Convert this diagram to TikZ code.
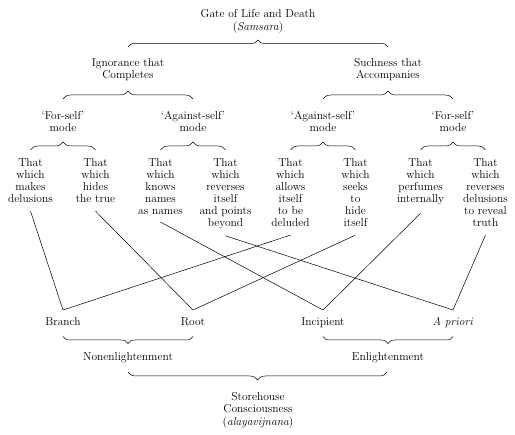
\documentclass[tikz,border=0pt]{standalone}
\usepackage{fontspec}
\usetikzlibrary{decorations.pathreplacing}
\begin{document}
\begin{tikzpicture}[x=1pt,y=-1pt,
  every node/.style={font=\fontsize{11.5}{12}\selectfont},
  lbl/.style={align=center,inner sep=0pt,anchor=north},
  leaf/.style={lbl,outer xsep=0pt,outer ysep=8pt},
  base/.style={lbl,outer xsep=0pt,outer ysep=7.5pt},
  brc/.style={decorate,decoration={brace,amplitude=#1},line width=0.5pt},
  brc/.default=7.5pt,
  link/.style={line width=0.5pt}]
\useasboundingbox (0,0) rectangle (515,435);
% top
\node[lbl] (gate) at (258,9) {Gate of Life and Death\\[1.5pt](\textit{Samsara})};
\node[lbl] (ign) at (128,58) {Ignorance that\\Completes};
\node[lbl] (such) at (388,58) {Suchness that\\Accompanies};
\node[lbl] (m1) at (63,111.5) {‘For-self’\\mode};
\node[lbl] (m2) at (193,111.5) {‘Against-self’\\mode};
\node[lbl] (m3) at (323,111.5) {‘Against-self’\\mode};
\node[lbl] (m4) at (453,111.5) {‘For-self’\\mode};
% leaves
\node[leaf] (l1) at (30.5,151) {That\\which\\makes\\delusions};
\node[leaf] (l2) at (95.5,151) {That\\which\\hides\\the true};
\node[leaf,outer ysep=7pt] (l3) at (160.5,152) {That\\which\\knows\\names\\as names};
\node[leaf,outer ysep=6.5pt] (l4) at (225.5,152.5) {That\\which\\reverses\\itself\\and points\\beyond};
\node[leaf] (l5) at (290.5,151) {That\\which\\allows\\itself\\to be\\deluded};
\node[leaf] (l6) at (355.5,151) {That\\which\\seeks\\to\\hide\\itself};
\node[leaf] (l7) at (420.5,151) {That\\which\\perfumes\\internally};
\node[leaf] (l8) at (485.5,151) {That\\which\\reverses\\delusions\\to reveal\\truth};
% bottom
\node[base] (br) at (63,310) {Branch};
\node[base] (rt) at (193,310) {Root};
\node[base] (in) at (323,310) {Incipient};
\node[base] (ap) at (453,310) {\textit{A priori}};
\node[lbl] (non) at (128,352.5) {Nonenlightenment};
\node[lbl] (enl) at (388,352.5) {Enlightenment};
\node[lbl] (st) at (258,392.5) {Storehouse\\Consciousness\\[0.5pt](\textit{alayavijnana})};
% braces
\draw[brc=7pt] (128,47) -- (388,47);
\draw[brc=8pt] (63,99) -- (193,99);
\draw[brc=8pt] (323,99) -- (453,99);
\draw[brc=8pt] (30.5,150) -- (95.5,150);
\draw[brc=8pt] (160.5,150) -- (225.5,150);
\draw[brc=8pt] (290.5,150) -- (355.5,150);
\draw[brc=8pt] (420.5,150) -- (485.5,150);
\draw[brc=7pt] (193,336.5) -- (63,336.5);
\draw[brc=7pt] (453,336.5) -- (323,336.5);
\draw[brc=8pt] (387,372) -- (128,372);
% connectors
\draw[link] (l1.south) -- (br.north);
\draw[link] (l2.south) -- (rt.north);
\draw[link] (l3.south) -- (in.north);
\draw[link] (l4.south) -- (ap.north);
\draw[link] (l5.south) -- (br.north);
\draw[link] (l6.south) -- (rt.north);
\draw[link] (l7.south) -- (in.north);
\draw[link] (l8.south) -- (ap.north);
\end{tikzpicture}
\end{document}
